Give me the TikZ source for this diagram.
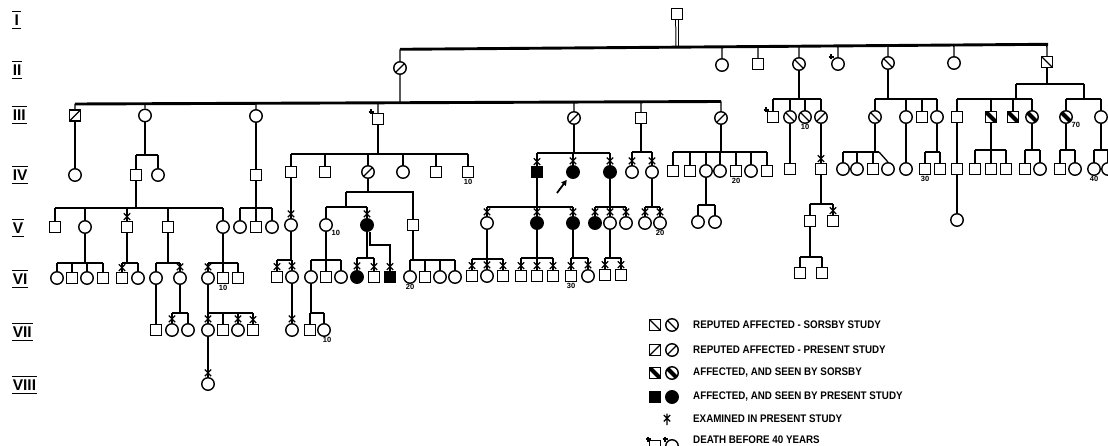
\documentclass[tikz,border=0pt]{standalone}
\usepackage{fontspec}
\setmainfont{Liberation Sans}
\newfontfamily\legfont[FakeStretch=0.89]{Liberation Sans}
\usetikzlibrary{arrows.meta,calc,positioning}

\tikzset{
  sq/.style={draw, rectangle, minimum size=11pt, inner sep=0pt, line width=1.4pt},
  ci/.style={draw, circle, minimum size=12.5pt, inner sep=0pt, line width=1.4pt},
  repS/.style={path picture={\draw[line width=1.2pt] (path picture bounding box.north west) -- (path picture bounding box.south east);}},
  repP/.style={path picture={\draw[line width=1.2pt] (path picture bounding box.south west) -- (path picture bounding box.north east);}},
  seenS/.style={path picture={\draw[line width=4pt] (path picture bounding box.north west) -- (path picture bounding box.south east);}},
  aff/.style={fill=black},
  link/.style={line width=1.3pt},
  bar/.style={line width=2.9pt},
  num/.style={font=\bfseries\fontsize{7.5}{8}\selectfont, inner sep=0.6pt},
  legtext/.style={anchor=west, inner sep=0pt, font=\legfont\bfseries\fontsize{11}{13}\selectfont},
  gen/.style={anchor=west, minimum width=9pt, inner xsep=0.6pt, inner ysep=2.8pt, font=\bfseries\fontsize{15.5}{17}\selectfont},
}

% examined in present study
\newcommand{\exmark}[1]{\draw[line width=1.2pt] ([shift={(-3.2pt,7.5pt)}]#1.north) -- ([shift={(3.2pt,0.8pt)}]#1.north)
  ([shift={(3.2pt,7.5pt)}]#1.north) -- ([shift={(-3.2pt,0.8pt)}]#1.north);}
% death before 40 years
\newcommand{\deathmark}[1]{\draw[line width=1.2pt] ([shift={(-9.5pt,7pt)}]#1.center) -- ([shift={(-4.5pt,7pt)}]#1.center)
  ([shift={(-7pt,9.5pt)}]#1.center) -- ([shift={(-7pt,4.5pt)}]#1.center);}
% parent point, bar height, children
\newcommand{\sibs}[3]{%
  \draw[link] (#1) -- (#1 |- 0,#2);
  \foreach \k [count=\i] in {#3}{%
    \draw[link] (\k.north) -- (\k.north |- 0,#2);
    \ifnum\i=1 \xdef\famfirst{\k}\fi
    \xdef\famlast{\k}}%
  \draw[bar] (\famfirst.north |- 0,#2) -- (\famlast.north |- 0,#2);
}

\begin{document}
\begin{tikzpicture}[x=1pt,y=-1pt]
  \useasboundingbox (0,0) rectangle (1108,446);
  \fill[white] (0,0) rectangle (1108,446);

  % generation labels
  \foreach \r/\y in {I/20,II/70,III/115,IV/175,V/228,VI/279,VII/332,VIII/385}{
    \node[gen] (r\r) at (12,\y) {\r};
    \draw[line width=1.3pt] (r\r.north west) -- (r\r.north east) (r\r.south west) -- (r\r.south east);
  }

  % I and II
  \node[sq] (a677) at (677,14) {};
  \node[ci,repP] (b400) at (400,68) {};
  \node[ci] (b722) at (722,65) {};
  \node[sq] (b758) at (758,64) {};
  \node[ci,repS] (b799) at (799,64) {};
  \node[ci] (b838) at (838,64) {};
  \node[ci,repS] (b888) at (888,63) {};
  \node[ci] (b954) at (954,63) {};
  \node[sq,repS] (b1047) at (1047,62) {};

  % III
  \node[sq,repP] (c75) at (75,115.5) {};
  \node[ci] (c145) at (145,115.5) {};
  \node[ci] (c256) at (256,116) {};
  \node[sq] (c378) at (378,119) {};
  \node[ci,repP] (c574) at (574,118) {};
  \node[sq] (c641) at (641,118) {};
  \node[ci,repP] (c721) at (721,118) {};
  \node[sq] (c773) at (773,117) {};
  \node[ci,repS] (c790) at (790,117) {};
  \node[ci,repS,label={[num]below:10}] (c805) at (805,117) {};
  \node[ci,repP] (c821) at (821,117) {};
  \node[ci,repS] (c875) at (875,117) {};
  \node[ci] (c906) at (906,117) {};
  \node[sq] (c922) at (922,117) {};
  \node[ci] (c937) at (937,117) {};
  \node[sq] (c957) at (957,117) {};
  \node[sq,seenS] (c991) at (991,117) {};
  \node[sq,seenS] (c1013) at (1013,117) {};
  \node[ci,seenS] (c1032) at (1032,117) {};
  \node[ci,seenS,label={[num]below right:70}] (c1066) at (1066,117) {};
  \node[ci] (c1101) at (1101,117) {};

  % IV
  \foreach \x in {136,256} \node[sq] (d\x) at (\x,175) {};
  \foreach \x in {75,158} \node[ci] (d\x) at (\x,175) {};
  \foreach \x in {291,325,436} \node[sq] (d\x) at (\x,172) {};
  \node[sq,label={[num]below:10}] (d468) at (468,172) {};
  \node[ci,repP] (d368) at (368,172) {};
  \node[ci] (d403) at (403,172) {};
  \node[sq,aff] (d537) at (537,172) {};
  \foreach \x in {573,610} \node[ci,aff] (d\x) at (\x,172) {};
  \foreach \x in {632,652} \node[ci] (d\x) at (\x,172) {};
  \foreach \x in {673,690,767} \node[sq] (d\x) at (\x,171) {};
  \node[sq,label={[num]below:20}] (d736) at (736,171) {};
  \foreach \x in {706,720,751} \node[ci] (d\x) at (\x,171) {};
  \foreach \x in {790,821,873,940,957,975,991,1006,1025,1060} \node[sq] (d\x) at (\x,169) {};
  \node[sq,label={[num]below:30}] (d925) at (925,169) {};
  \foreach \x in {843,857,888,906,1040,1075,1108} \node[ci] (d\x) at (\x,169) {};
  \node[ci,label={[num]below:40}] (d1094) at (1094,169) {};

  % V
  \foreach \x in {55,127,168,256} \node[sq] (e\x) at (\x,227) {};
  \foreach \x in {85,223,240,272} \node[ci] (e\x) at (\x,227) {};
  \node[ci] (e291) at (291,225) {};
  \node[ci,label={[num]below right:10}] (e326) at (326,225) {};
  \node[ci,aff] (e367) at (367,225) {};
  \node[sq] (e413) at (413,225) {};
  \foreach \x in {487,610,626,645} \node[ci] (e\x) at (\x,223) {};
  \node[ci,label={[num]below:20}] (e660) at (660,223) {};
  \foreach \x in {537,573,595} \node[ci,aff] (e\x) at (\x,223) {};
  \foreach \x in {698,715} \node[ci] (e\x) at (\x,222) {};
  \foreach \x in {810,833} \node[sq] (e\x) at (\x,221) {};
  \node[ci] (e957) at (957,220) {};

  % VI
  \foreach \x in {72,103,122,238} \node[sq] (f\x) at (\x,278) {};
  \node[sq,label={[num]below:10}] (f223) at (223,278) {};
  \foreach \x in {57,87,138,156,180,208} \node[ci] (f\x) at (\x,278) {};
  \foreach \x in {277,326,374,425} \node[sq] (f\x) at (\x,277) {};
  \foreach \x in {292,311,341,440,455} \node[ci] (f\x) at (\x,277) {};
  \node[ci,label={[num]below:20}] (f410) at (410,277) {};
  \node[ci,aff] (f357) at (357,277) {};
  \node[sq,aff] (f390) at (390,277) {};
  \foreach \x in {472,503,521,537,553} \node[sq] (f\x) at (\x,276) {};
  \node[sq,label={[num]below:30}] (f571) at (571,276) {};
  \foreach \x in {487,588} \node[ci] (f\x) at (\x,276) {};
  \foreach \x in {605,621} \node[sq] (f\x) at (\x,275) {};
  \foreach \x in {800,822} \node[sq] (f\x) at (\x,273) {};

  % VII and VIII
  \foreach \x in {156,223,253,310} \node[sq] (g\x) at (\x,330) {};
  \foreach \x in {172,188,208,238,292} \node[ci] (g\x) at (\x,330) {};
  \node[ci,label={[num,xshift=3pt]below:10}] (g324) at (324,330) {};
  \node[ci] (h208) at (208,384) {};

  % I--II
  \coordinate (IIL) at (400,49.3);
  \coordinate (IIR) at (1048,44.3);
  \draw[double, double distance=1.6pt, line width=1pt] (a677.south) -- ($(IIL)!(a677.south)!(IIR)$);
  \draw[bar] (IIL) -- (IIR);
  \foreach \k in {b400,b722,b758,b799,b838,b888,b954,b1047}
    \draw[link] (\k.north) -- ($(IIL)!(\k.north)!(IIR)$);

  % II--III
  \coordinate (IIIL) at (75,104);
  \coordinate (IIIR) at (721,101.5);
  \draw[link] (b400.south) -- ($(IIIL)!(b400.south)!(IIIR)$);
  \draw[bar] (IIIL) -- (IIIR);
  \foreach \k in {c75,c145,c256,c378,c574,c641,c721}
    \draw[link] (\k.north) -- ($(IIIL)!(\k.north)!(IIIR)$);
  \sibs{b799.south}{99}{c773,c790,c805,c821}
  \sibs{b888.south}{99}{c875,c906,c922,c937}
  \coordinate (kL) at (1016,84);
  \coordinate (kR) at (1084,84);
  \draw[link] (b1047.south) -- (b1047.south |- kL);
  \draw[link] (kL) -- (kR);
  \sibs{kL}{99}{c957,c991,c1013,c1032}
  \sibs{kR}{99}{c1066,c1101}

  % III--IV
  \draw[link] (c75.south) -- (d75.north);
  \sibs{c145.south}{155}{d136,d158}
  \draw[link] (c256.south) -- (d256.north);
  \sibs{c378.south}{154}{d291,d325,d368,d403,d436,d468}
  \sibs{c574.south}{153}{d537,d573,d610}
  \sibs{c641.south}{152}{d632,d652}
  \sibs{c721.south}{152}{d673,d690,d706,d720,d736,d751,d767}
  \draw[link] (c790.south) -- (d790.north);
  \draw[link] (c821.south) -- (d821.north);
  \sibs{c875.south}{152}{d843,d857,d873}
  \coordinate (q875) at (879,152);
  \draw[bar] (d873.north |- q875) -- (q875);
  \draw[link] (q875) -- (d888.north);
  \draw[link] (c906.south) -- (d906.north);
  \sibs{c937.south}{152}{d925,d940}
  \draw[link] (c957.south) -- (d957.north);
  \sibs{c991.south}{150}{d975,d991,d1006}
  \sibs{c1032.south}{150}{d1025,d1040}
  \sibs{c1066.south}{150}{d1060,d1075}
  \sibs{c1101.south}{150}{d1094,d1108}

  % IV--V
  \sibs{d136.south}{208}{e55,e85,e127,e168,e223}
  \sibs{d256.south}{208}{e240,e256,e272}
  \draw[link] (d291.south) -- (e291.north);
  \coordinate (jL) at (346,192);
  \coordinate (jR) at (413,192);
  \draw[link] (d368.south) -- (d368.south |- jL);
  \draw[link] (jL) -- (jR) -- (e413.north);
  \sibs{jL}{207}{e326,e367}
  \sibs{d537.south}{207}{e487,e537,e573}
  \sibs{d610.south}{207}{e595,e610,e626}
  \sibs{d652.south}{207}{e645,e660}
  \sibs{d706.south}{205}{e698,e715}
  \sibs{d821.south}{204}{e810,e833}
  \draw[link] (d957.south) -- (e957.north);

  % V--VI
  \sibs{e85.south}{263}{f57,f72,f87,f103}
  \sibs{e127.south}{263}{f122,f138}
  \sibs{e168.south}{263}{f156,f180}
  \sibs{e223.south}{263}{f208,f223,f238}
  \sibs{e291.south}{260}{f277,f292}
  \sibs{e326.south}{260}{f311,f326,f341}
  \sibs{e367.south}{258}{f357,f374}
  \draw[link] ([xshift=3pt]e367.south) |- (f390.north |- 0,245) -- (f390.north);
  \sibs{e413.south}{260}{f410,f425,f440,f455}
  \sibs{e487.south}{259}{f472,f487,f503}
  \sibs{e537.south}{258}{f521,f537,f553}
  \sibs{e573.south}{258}{f571,f588}
  \sibs{e610.south}{258}{f605,f621}
  \sibs{e810.south}{257}{f800,f822}

  % VI--VIII
  \draw[link] (f156.south) -- (g156.north);
  \sibs{f180.south}{313}{g172,g188}
  \sibs{f208.south}{313}{g208,g223,g238,g253}
  \draw[link] (f292.south) -- (g292.north);
  \sibs{f311.south}{313}{g310,g324}
  \draw[link] (g208.south) -- (h208.north);

  % marks
  \foreach \n in {d537,d573,d610,d632,d652,d821,e127,e291,e367,e487,e537,e573,e595,e610,e626,e645,e660,e833,f122,f180,f208,f277,f292,f357,f374,f390,f472,f487,f503,f521,f537,f553,f571,f588,f605,f621,g172,g208,g238,g253,g292,h208}
    \exmark{\n};
  \foreach \n in {b838,c378,c773} \deathmark{\n};

  % proband
  \coordinate (ptail) at (557,193);
  \draw[line width=1.8pt, -{Triangle[length=5.5pt,width=5.5pt]}] (ptail) -- ([shift={(-1.3pt,-2.9pt)}]d573.south west);

  % key
  \node[sq,repS] (k1s) at (655,325) {};
  \node[ci,repS] (k1c) at (672,325) {};
  \node[legtext] (k1t) at (693,325) {REPUTED AFFECTED - SORSBY STUDY};
  \node[sq,repP] (k2s) at (655,350) {};
  \node[ci,repP] (k2c) at (672,350) {};
  \node[legtext] (k2t) at (693,350) {REPUTED AFFECTED - PRESENT STUDY};
  \node[sq,seenS] (k3s) at (655,373) {};
  \node[ci,seenS] (k3c) at (672,373) {};
  \node[legtext] (k3t) at (693,373) {AFFECTED, AND SEEN BY SORSBY};
  \node[sq,aff] (k4s) at (655,397) {};
  \node[ci,aff] (k4c) at (672,397) {};
  \node[legtext] (k4t) at (693,397) {AFFECTED, AND SEEN BY PRESENT STUDY};
  \draw[line width=1.2pt] (667,413.5) -- (667,425) (663.8,415) -- (670.2,421.5) (670.2,415) -- (663.8,421.5);
  \node[legtext] (k5t) at (693,419) {EXAMINED IN PRESENT STUDY};
  \node[sq] (k6s) at (655,446) {};
  \node[ci] (k6c) at (672,446) {};
  \deathmark{k6s}
  \deathmark{k6c}
  \node[legtext] (k6t) at (693,440) {DEATH BEFORE 40 YEARS};
\end{tikzpicture}
\end{document}
